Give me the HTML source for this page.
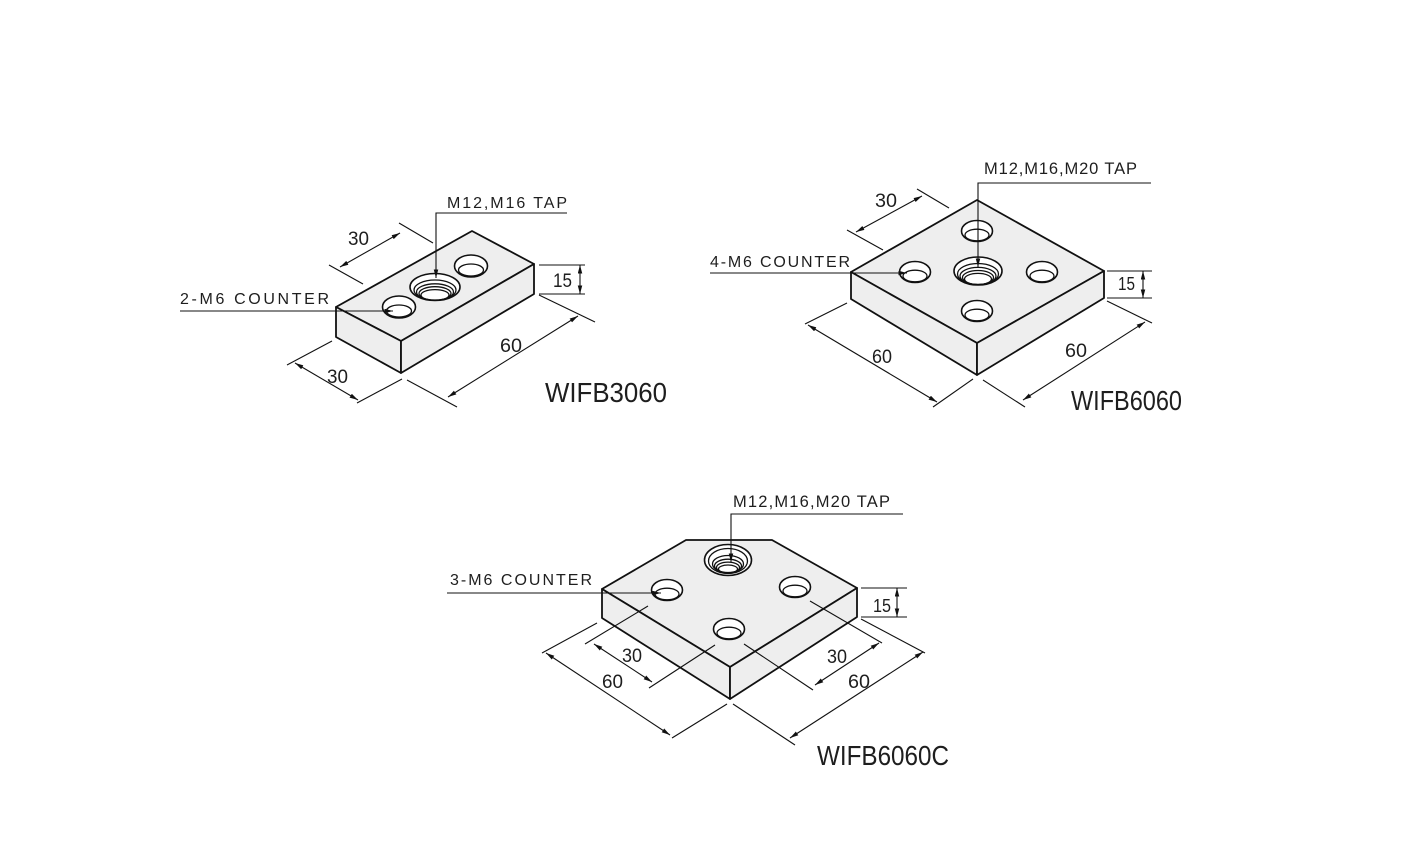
<!DOCTYPE html>
<html>
<head>
<meta charset="utf-8">
<style>
html,body{margin:0;padding:0;background:#fff;}
svg{display:block;}
text{font-family:"Liberation Sans",sans-serif;fill:#1e1e1e;}
</style>
</head>
<body>
<svg width="1416" height="864" viewBox="0 0 1416 864" xmlns="http://www.w3.org/2000/svg">
<defs>
<marker id="ar" markerUnits="userSpaceOnUse" markerWidth="9" markerHeight="5" refX="8.5" refY="2.25" orient="auto-start-reverse">
<path d="M0,0 L8.5,2.25 L0,4.5 z" fill="#111"/>
</marker>
</defs>
<rect width="1416" height="864" fill="#fff"/>

<!-- ================= BLOCK 1 : WIFB3060 ================= -->
<g stroke="#111" stroke-width="1.8" stroke-linejoin="round" fill="#eeeeee">
<polygon points="336,307 472,231 534,264 401,341"/>
<polygon points="336,307 401,341 401,373 336,337"/>
<polygon points="401,341 534,264 534,294 401,373"/>
</g>
<g stroke="#111" stroke-width="1.6" fill="#fff">
<ellipse cx="399" cy="307" rx="16.5" ry="11"/>
<ellipse cx="399" cy="311" rx="12.5" ry="6" fill="none" stroke-width="1.3"/>
<ellipse cx="471" cy="266" rx="16.5" ry="11"/>
<ellipse cx="471" cy="270" rx="12.5" ry="6" fill="none" stroke-width="1.3"/>
<ellipse cx="435" cy="287" rx="25" ry="13.5"/>
<g fill="none" stroke-width="1.3">
<ellipse cx="435" cy="290" rx="21" ry="10"/>
<ellipse cx="435" cy="292" rx="18.5" ry="8.2"/>
<ellipse cx="435" cy="293.5" rx="16" ry="6.8"/>
<ellipse cx="435" cy="295" rx="14" ry="5.4"/>
</g>
</g>
<g stroke="#111" stroke-width="1.1" fill="none">
<polyline points="567,213 436,213 436,278" marker-end="url(#ar)"/>
<line x1="180" y1="311" x2="393" y2="311" marker-end="url(#ar)"/>
</g>
<g stroke="#111" stroke-width="1.1" fill="none">
<line x1="329" y1="265" x2="363" y2="284"/>
<line x1="399" y1="223" x2="433" y2="243"/>
<line x1="340" y1="267" x2="400" y2="233" marker-start="url(#ar)" marker-end="url(#ar)"/>
<line x1="539" y1="265" x2="585" y2="265"/>
<line x1="539" y1="294" x2="585" y2="294"/>
<line x1="580" y1="265" x2="580" y2="294" marker-start="url(#ar)" marker-end="url(#ar)"/>
<line x1="539" y1="295" x2="595" y2="322"/>
<line x1="407" y1="380" x2="457" y2="407"/>
<line x1="448" y1="397" x2="578" y2="316" marker-start="url(#ar)" marker-end="url(#ar)"/>
<line x1="332" y1="341" x2="287" y2="365"/>
<line x1="402" y1="379" x2="357" y2="403"/>
<line x1="295" y1="363" x2="358" y2="400" marker-start="url(#ar)" marker-end="url(#ar)"/>
</g>
<text x="447" y="208" font-size="16" textLength="120" lengthAdjust="spacing">M12,M16 TAP</text>
<text x="180" y="304" font-size="16" textLength="149" lengthAdjust="spacing">2-M6 COUNTER</text>
<text x="348" y="245" font-size="19" textLength="21" lengthAdjust="spacingAndGlyphs">30</text>
<text x="553" y="287" font-size="19" textLength="19" lengthAdjust="spacingAndGlyphs">15</text>
<text x="500" y="352" font-size="19" textLength="22" lengthAdjust="spacingAndGlyphs">60</text>
<text x="327" y="383" font-size="19" textLength="21" lengthAdjust="spacingAndGlyphs">30</text>
<text x="545" y="402" font-size="28" textLength="122" lengthAdjust="spacingAndGlyphs">WIFB3060</text>

<!-- ================= BLOCK 2 : WIFB6060 ================= -->
<g stroke="#111" stroke-width="1.8" stroke-linejoin="round" fill="#eeeeee">
<polygon points="851,272 977,200 1104,271 977,343"/>
<polygon points="851,272 977,343 977,375 851,299"/>
<polygon points="977,343 1104,271 1104,298 977,375"/>
</g>
<g stroke="#111" stroke-width="1.6" fill="#fff">
<ellipse cx="977" cy="231" rx="15.5" ry="10.5"/>
<ellipse cx="977" cy="235" rx="12" ry="5.8" fill="none" stroke-width="1.3"/>
<ellipse cx="915" cy="272" rx="15.5" ry="10.5"/>
<ellipse cx="915" cy="276" rx="12" ry="5.8" fill="none" stroke-width="1.3"/>
<ellipse cx="1042" cy="272" rx="15.5" ry="10.5"/>
<ellipse cx="1042" cy="276" rx="12" ry="5.8" fill="none" stroke-width="1.3"/>
<ellipse cx="977" cy="311" rx="15.5" ry="10.5"/>
<ellipse cx="977" cy="315" rx="12" ry="5.8" fill="none" stroke-width="1.3"/>
<ellipse cx="978" cy="271" rx="24" ry="14"/>
<g fill="none" stroke-width="1.3">
<ellipse cx="978" cy="274" rx="20.5" ry="10.5"/>
<ellipse cx="978" cy="276" rx="18" ry="8.6"/>
<ellipse cx="978" cy="277.5" rx="15.5" ry="7"/>
<ellipse cx="978" cy="279" rx="13.5" ry="5.6"/>
</g>
</g>
<g stroke="#111" stroke-width="1.1" fill="none">
<polyline points="1151,183 978,183 978,267" marker-end="url(#ar)"/>
<line x1="710" y1="273" x2="907" y2="273" marker-end="url(#ar)"/>
</g>
<g stroke="#111" stroke-width="1.1" fill="none">
<line x1="847" y1="230" x2="883" y2="250"/>
<line x1="917" y1="189" x2="949" y2="208"/>
<line x1="856" y1="232" x2="922" y2="196" marker-start="url(#ar)" marker-end="url(#ar)"/>
<line x1="1107" y1="271" x2="1152" y2="271"/>
<line x1="1107" y1="298" x2="1152" y2="298"/>
<line x1="1143" y1="271" x2="1143" y2="298" marker-start="url(#ar)" marker-end="url(#ar)"/>
<line x1="847" y1="303" x2="805" y2="324"/>
<line x1="973" y1="379" x2="933" y2="407"/>
<line x1="808" y1="325" x2="937" y2="402" marker-start="url(#ar)" marker-end="url(#ar)"/>
<line x1="1107" y1="301" x2="1152" y2="323"/>
<line x1="983" y1="380" x2="1025" y2="407"/>
<line x1="1023" y1="400" x2="1145" y2="322" marker-start="url(#ar)" marker-end="url(#ar)"/>
</g>
<text x="984" y="174" font-size="16.5" textLength="153" lengthAdjust="spacing">M12,M16,M20 TAP</text>
<text x="710" y="267" font-size="16" textLength="140" lengthAdjust="spacing">4-M6 COUNTER</text>
<text x="875" y="207" font-size="19" textLength="22" lengthAdjust="spacingAndGlyphs">30</text>
<text x="1118" y="290" font-size="18" textLength="17" lengthAdjust="spacingAndGlyphs">15</text>
<text x="872" y="363" font-size="19" textLength="20" lengthAdjust="spacingAndGlyphs">60</text>
<text x="1065" y="357" font-size="19" textLength="22" lengthAdjust="spacingAndGlyphs">60</text>
<text x="1071" y="410" font-size="28" textLength="111" lengthAdjust="spacingAndGlyphs">WIFB6060</text>

<!-- ================= BLOCK 3 : WIFB6060C ================= -->
<g stroke="#111" stroke-width="1.8" stroke-linejoin="round" fill="#eeeeee">
<polygon points="602,589 686,540 772,540 857,588 730,667"/>
<polygon points="602,589 730,667 730,699 602,618"/>
<polygon points="730,667 857,588 857,617 730,699"/>
</g>
<g stroke="#111" stroke-width="1.6" fill="#fff">
<ellipse cx="667" cy="590" rx="15.5" ry="10.5"/>
<ellipse cx="667" cy="594" rx="12" ry="5.8" fill="none" stroke-width="1.3"/>
<ellipse cx="795" cy="587" rx="15.5" ry="10.5"/>
<ellipse cx="795" cy="591" rx="12" ry="5.8" fill="none" stroke-width="1.3"/>
<ellipse cx="729" cy="629" rx="15.5" ry="10.5"/>
<ellipse cx="729" cy="633" rx="12" ry="5.8" fill="none" stroke-width="1.3"/>
<ellipse cx="728" cy="560" rx="23.5" ry="15.5"/>
<g fill="none" stroke-width="1.3">
<ellipse cx="728" cy="561" rx="19.5" ry="12.5"/>
<ellipse cx="728" cy="564" rx="15.5" ry="8.5"/>
<ellipse cx="728" cy="566" rx="13.5" ry="6.8"/>
<ellipse cx="728" cy="567.5" rx="11.5" ry="5.4"/>
<ellipse cx="728" cy="569" rx="9.5" ry="4"/>
</g>
</g>
<g stroke="#111" stroke-width="1.1" fill="none">
<polyline points="903,514 731,514 731,562" marker-end="url(#ar)"/>
<line x1="447" y1="593" x2="661" y2="593" marker-end="url(#ar)"/>
</g>
<g stroke="#111" stroke-width="1.1" fill="none">
<line x1="861" y1="588" x2="907" y2="588"/>
<line x1="861" y1="617" x2="907" y2="617"/>
<line x1="897" y1="588" x2="897" y2="617" marker-start="url(#ar)" marker-end="url(#ar)"/>
<line x1="597" y1="623" x2="542" y2="653"/>
<line x1="727" y1="704" x2="672" y2="738"/>
<line x1="546" y1="653" x2="670" y2="735" marker-start="url(#ar)" marker-end="url(#ar)"/>
<line x1="648" y1="606" x2="585" y2="644"/>
<line x1="715" y1="645" x2="649" y2="688"/>
<line x1="594" y1="644" x2="652" y2="682" marker-start="url(#ar)" marker-end="url(#ar)"/>
<line x1="744" y1="644" x2="813" y2="690"/>
<line x1="810" y1="601" x2="882" y2="643"/>
<line x1="815" y1="685" x2="879" y2="643" marker-start="url(#ar)" marker-end="url(#ar)"/>
<line x1="861" y1="619" x2="925" y2="653"/>
<line x1="733" y1="704" x2="795" y2="745"/>
<line x1="790" y1="738" x2="923" y2="652" marker-start="url(#ar)" marker-end="url(#ar)"/>
</g>
<text x="733" y="507" font-size="16.5" textLength="157" lengthAdjust="spacing">M12,M16,M20 TAP</text>
<text x="450" y="585" font-size="16" textLength="142" lengthAdjust="spacing">3-M6 COUNTER</text>
<text x="873" y="612" font-size="18" textLength="18" lengthAdjust="spacingAndGlyphs">15</text>
<text x="602" y="688" font-size="19" textLength="21" lengthAdjust="spacingAndGlyphs">60</text>
<text x="622" y="662" font-size="19" textLength="20" lengthAdjust="spacingAndGlyphs">30</text>
<text x="827" y="663" font-size="19" textLength="20" lengthAdjust="spacingAndGlyphs">30</text>
<text x="848" y="688" font-size="19" textLength="22" lengthAdjust="spacingAndGlyphs">60</text>
<text x="817" y="765" font-size="28" textLength="132" lengthAdjust="spacingAndGlyphs">WIFB6060C</text>
</svg>
</body>
</html>
